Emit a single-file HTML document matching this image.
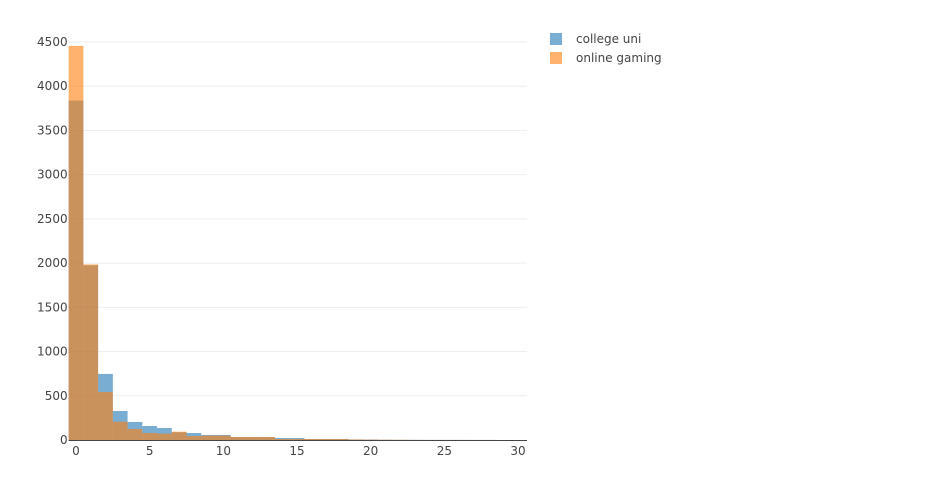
<!DOCTYPE html>
<html><head><meta charset="utf-8"><style>
body{margin:0;background:#fff;font-family:"DejaVu Sans",sans-serif}
svg text{font-family:"DejaVu Sans",sans-serif;fill:#444;font-size:12px}
</style></head><body>
<svg id="c" width="936" height="478"></svg>
<script>
const bins=[0,1,2,3,4,5,6,7,8,9,10,11,12,13,14,15,16,17,18,19,20,21,22,23,24,25,26,27,28,29,30];
const collegeUni=[3838,1975,747,328,204,158,136,88,79,57,57,33,33,33,23,23,11,11,11,6,5,3,2,2,1,1,1,1,1,0,0];
const onlineGaming=[4456,1985,543,207,125,79,72,94,45,50,50,34,34,34,11,11,11,11,11,6,4,3,2,1,1,1,1,0,0,0,0];
const yTicks=[0,500,1000,1500,2000,2500,3000,3500,4000,4500];
const xTicks=[0,5,10,15,20,25,30];
const svg=document.getElementById('c');const NS='http://www.w3.org/2000/svg';
const x0=68.6,x1=527,y0=440,yTop=42;
const X=v=>76+v*(518-76)/30;
const Y=v=>y0-v*(y0-yTop)/4500;
function el(t,a,p){const e=document.createElementNS(NS,t);for(const k in a)e.setAttribute(k,a[k]);(p||svg).appendChild(e);return e;}
yTicks.forEach(v=>{
 if(v>0){const g=el('line',{x1:x0,x2:x1,y1:Y(v),y2:Y(v),stroke:'#eee'});
 
 }
 const t=el('text',{x:x0-1,y:Y(v)+4,'text-anchor':'end'});t.textContent=v;
 
 
});
xTicks.forEach(v=>{
 const t=el('text',{x:X(v),y:455,'text-anchor':'middle'});t.textContent=v;
 
 
});
function series(vals,color,name){
 vals.forEach((v,i)=>{
  if(v<=0)return;
  const r=el('rect',{x:X(bins[i]-0.5),y:Y(v),width:X(1)-X(0),height:y0-Y(v),fill:color,'fill-opacity':0.6});
  
  
 });
}
series(collegeUni,'#1f77b4','college-uni');
series(onlineGaming,'#ff7f0e','online-gaming');
const ax=el('line',{x1:x0,x2:x1,y1:y0+0.5,y2:y0+0.5,stroke:'#444','stroke-width':1});


[['college uni','#1f77b4',39],['online gaming','#ff7f0e',58]].forEach(([n,c,y])=>{
 const g=el('g',{});
 
 
 el('rect',{x:550,y:y-6,width:12,height:12,fill:c,'fill-opacity':0.6},g);
 const t=el('text',{x:576,y:y+4},g);t.textContent=n;
});
</script>
</body></html>
